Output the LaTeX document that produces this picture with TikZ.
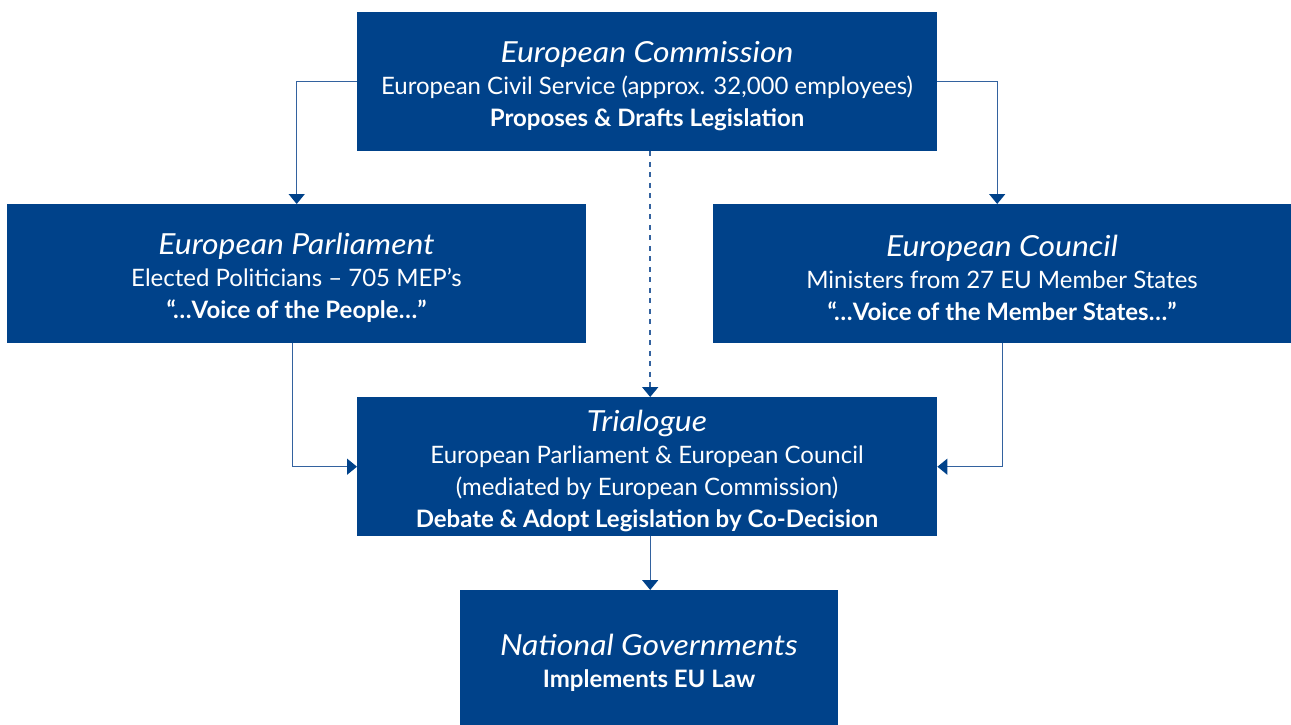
\documentclass[tikz,border=0pt]{standalone}
\usepackage{fontspec}
\setmainfont{Lato}
\newfontfamily\titlefamily[FakeStretch=1.1]{Lato}
\usetikzlibrary{arrows.meta}
\definecolor{eublue}{HTML}{00428A}
\definecolor{eulink}{HTML}{33629F}
\newcommand{\paneltitle}[1]{{\titlefamily\fontsize{29}{32}\selectfont\itshape #1}}
\newcommand{\panelbold}[1]{{\bfseries #1}}
\begin{document}
\begin{tikzpicture}[x=1pt,y=-1pt,
  panel/.style={fill=eublue, draw=none, inner sep=0pt, anchor=north west},
  paneltext/.style={text=white, align=center, inner sep=0pt,
    font=\fontsize{24}{32}\selectfont},
  link/.style={draw=eulink, line width=1.4pt,
    -{Triangle[width=16pt,length=10pt,color=eublue]}},
  dashlink/.style={link, line width=1.8pt, dash pattern=on 5pt off 5.5pt}
]
\useasboundingbox (0,0) rectangle (1291,724);

% boxes
\node[panel, minimum width=580pt, minimum height=139pt] (com) at (357,12) {};
\node[panel, minimum width=579pt, minimum height=139pt] (par) at (7,204) {};
\node[panel, minimum width=578pt, minimum height=139pt] (cou) at (713,204) {};
\node[panel, minimum width=580pt, minimum height=139pt] (tri) at (357,397) {};
\node[panel, minimum width=378pt, minimum height=140pt] (nat) at (460,590) {};

% texts
\node[paneltext] (comtxt) at (647,86) {\paneltitle{European Commission}\\
  European Civil Service (approx. 32,000 employees)\\
  \panelbold{Proposes \& Drafts Legislation}};
\node[paneltext] (partxt) at (296.5,278) {\paneltitle{European Parliament}\\
  Elected Politicians – 705 MEP’s\\
  \panelbold{“…Voice of the People…”}};
\node[paneltext] (coutxt) at (1002,278) {\paneltitle{European Council}\\
  Ministers from 27 EU Member States\\
  \panelbold{“…Voice of the Member States…”}};
\node[paneltext] (tritxt) at (647,471) {\paneltitle{Trialogue}\\
  European Parliament \& European Council\\
  (mediated by European Commission)\\
  \panelbold{Debate \& Adopt Legislation by Co-Decision}};
\node[paneltext] (nattxt) at (649,663) {\paneltitle{National Governments}\\
  \panelbold{Implements EU Law}};

% connectors
\draw[link] (com.west) -| (par.north);
\draw[link] (com.east) -| ([xshift=-5pt]cou.north);
\draw[dashlink] ([xshift=3pt]com.south) -- ([xshift=3pt]tri.north);
\draw[link] ([xshift=-4.5pt]par.south) |- (tri.west);
\draw[link] (cou.south) |- (tri.east);
\draw[link] ([xshift=3pt]tri.south) -- ([xshift=3pt]tri.south |- nat.north);
\end{tikzpicture}
\end{document}
